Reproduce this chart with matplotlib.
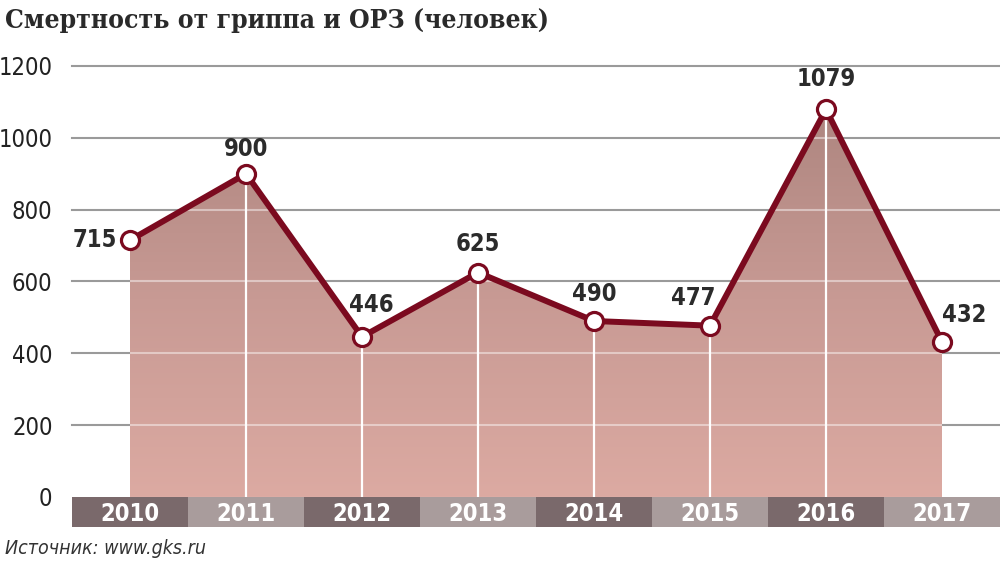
##################################
# Смертность от гриппа и ОРЗ
import numpy as np
import matplotlib.pyplot as plt
from matplotlib.patches import Polygon
from matplotlib.colors import LinearSegmentedColormap

# Data
years = ['2010', '2011', '2012', '2013', '2014', '2015', '2016', '2017']
deaths = [715, 900, 446, 625, 490, 477, 1079, 432]
yticks = [0, 200, 400, 600, 800, 1000, 1200]

narrow = dict(family='DejaVu Sans', stretch='condensed')
line_col = '#7b0a1f'

fig = plt.figure(figsize=(10, 5.67), dpi=100)
ax = fig.add_axes([0.072, 0.1235, 0.928, 0.7601])
x = np.arange(len(years))
y = np.array(deaths)

ax.set_xlim(-0.5, len(years) - 0.5)
ax.set_ylim(0, 1200)

# gray grid lines (behind the area)
for t in yticks[1:]:
    ax.axhline(t, color='#9a9a9a', lw=1.5, zorder=0, clip_on=False)

# gradient area under the line
verts = [(x[0], 0)] + list(zip(x, y)) + [(x[-1], 0)]
poly = Polygon(verts, closed=True, facecolor='none', edgecolor='none')
ax.add_patch(poly)
grad = np.linspace(0, 1, 256).reshape(-1, 1)
cmap = LinearSegmentedColormap.from_list('g', ['#dcaaa2', '#c89a94', '#ad857f'])
im = ax.imshow(grad, cmap=cmap, origin='lower', aspect='auto',
               extent=[x[0], x[-1], 0, 1100], zorder=1)
im.set_clip_path(poly)

# light grid lines inside the area
for t in yticks[1:]:
    l = ax.axhline(t, color='white', lw=1.5, alpha=0.45, zorder=2)
    l.set_clip_path(poly)

# white verticals
for xi, yi in zip(x[1:-1], y[1:-1]):
    ax.plot([xi, xi], [0, yi], color='white', lw=1.6, zorder=2)

ax.plot(x, y, color=line_col, lw=4.3, zorder=3, solid_joinstyle='miter')
ax.plot(x, y, 'o', ms=13, mfc='white', mec=line_col, mew=2.3, zorder=4)

# value labels (offsets in points)
offsets = [(-9, 0), (0, 9), (7, 14), (0, 12), (0, 11), (-12, 11), (0, 13), (0, 11)]
for i, (xi, yi) in enumerate(zip(x, y)):
    if i == 0:
        ha, va = 'right', 'center'
    elif i == len(x) - 1:
        ha, va = 'left', 'bottom'
    else:
        ha, va = 'center', 'bottom'
    ax.annotate(str(yi), (xi, yi), xytext=offsets[i], textcoords='offset points',
                ha=ha, va=va, fontsize=17, fontweight='bold',
                color='#2b2b2b', **narrow)

ax.set_xticks([])
ax.set_yticks(yticks)
ax.set_yticklabels([str(t) for t in yticks], fontsize=17, color='#222222', **narrow)
ax.tick_params(axis='y', length=0, pad=14)
for s in ax.spines.values():
    s.set_visible(False)

# category band
bx = fig.add_axes([0.072, 0.0705, 0.928, 0.0529])
bx.set_xlim(-0.5, len(years) - 0.5)
bx.set_ylim(0, 1)
for i, yr in enumerate(years):
    c = '#7a696b' if i % 2 == 0 else '#a99c9c'
    bx.bar(i, 1, width=1, bottom=0, color=c, edgecolor='none')
    bx.text(i, 0.45, yr, ha='center', va='center', fontsize=17, fontweight='bold',
            color='white', **narrow)
bx.axis('off')

# Title and source
fig.text(0.005, 0.963, 'Смертность от гриппа и ОРЗ (человек)', fontsize=19,
         fontweight='bold', family='DejaVu Serif', stretch='condensed',
         color='#2a2a2a', va='center')
fig.text(0.005, 0.033, 'Источник: www.gks.ru', fontsize=14, style='italic',
         color='#333333', va='center', **narrow)

plt.savefig('out.png', dpi=100)
